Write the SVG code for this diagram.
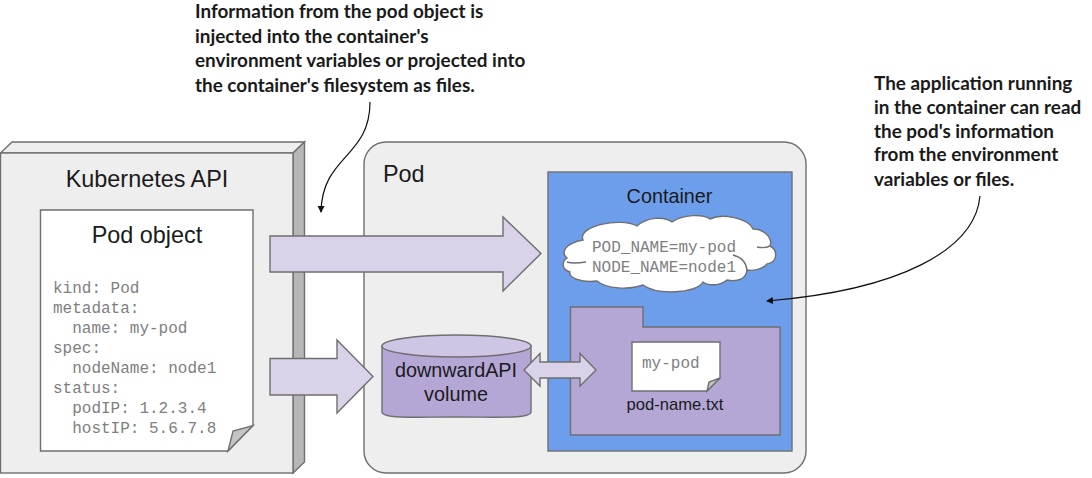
<svg xmlns="http://www.w3.org/2000/svg" width="1092" height="478" viewBox="0 0 1092 478">
<style>
.s{stroke:#6f6f6f;stroke-width:1.4;stroke-linejoin:miter}
.a{font-family:"Liberation Sans",Arial,sans-serif;fill:#1a1a1a}
.m{font-family:"Liberation Mono","Courier New",monospace;font-size:16px;fill:#808080}
.n{font-family:Lato,"Open Sans",sans-serif;font-size:18.900px;font-weight:bold;fill:#1a1a1a}
.c{fill:none;stroke:#111;stroke-width:1.2}
.arrow{fill:#d9d2e9}
</style>
<defs>
<marker id="h" markerWidth="8" markerHeight="8" refX="6" refY="3.5" orient="auto" markerUnits="userSpaceOnUse"><path d="M0 0L7 3.5L0 7Z" fill="#111"/></marker>
</defs>
<rect width="1092" height="478" fill="#fff"/>
<g id="api">
<path class="s" d="M0.5 153L12 142H304.500L293 153Z" fill="#eeeeee"/>
<path class="s" d="M293 153L304.500 142V462L293 473Z" fill="#b7b7b7"/>
<rect class="s" x="0.500" y="153" width="292.500" height="320" fill="#eeeeee"/>
<text class="a" x="147" y="187" font-size="23.400" text-anchor="middle">Kubernetes API</text>
</g>
<g id="pod">
<rect class="s" x="364" y="142" width="442" height="331" rx="22" fill="#eeeeee"/>
<text class="a" x="383" y="182" font-size="23.400">Pod</text>
</g>
<g id="pod-object">
<path class="s" d="M40.500 210H253V425.500L228 451H40.500Z" fill="#fff"/>
<path class="s" d="M228 451L233 431L253 425.500Z" fill="#c4c4c4"/>
<text class="a" x="147" y="243" font-size="23.400" text-anchor="middle">Pod object</text>
<g class="m">
<text x="53" y="292.500">kind: Pod</text>
<text x="53" y="312.500">metadata:</text>
<text x="53" y="332.500" xml:space="preserve">  name: my-pod</text>
<text x="53" y="352.500">spec:</text>
<text x="53" y="372.500" xml:space="preserve">  nodeName: node1</text>
<text x="53" y="392.500">status:</text>
<text x="53" y="412.500" xml:space="preserve">  podIP: 1.2.3.4</text>
<text x="53" y="432.500" xml:space="preserve">  hostIP: 5.6.7.8</text>
</g>
</g>
<g id="container">
<rect class="s" x="548" y="172" width="244" height="279" fill="#6d9eeb"/>
<text class="a" x="669.500" y="203" font-size="19.800" text-anchor="middle">Container</text>
</g>
<g id="env-cloud">
<path class="s" fill="#fff" d="M583 240C577 226 620 217 637 226C647 217 664 216 672 222C683 214 703 214 710 219C722 213 748 218 753 229C764 229 773 238 770 246C778 250 778 262 767 264C762 270 752 271 747 270C746 279 738 282 727 280C720 286 708 286 703 282C696 294 656 295 643 285C630 290 606 289 597 281C582 283 568 278 570 272C562 270 561 262 567 258C560 252 566 243 583 240Z"/>
<path fill="none" class="s" d="M567 262C573 264 580 263 586 262M770 246C766 248 762 248 757 247M747 270C746 262 741 257 733 255"/>
<g class="m">
<text x="592" y="251.500">POD_NAME=my-pod</text>
<text x="592" y="271.500">NODE_NAME=node1</text>
</g>
</g>
<g id="folder">
<path class="s" d="M570.500 307H643V327H780V435H570.500Z" fill="#b4a7d6"/>
</g>
<g id="file">
<path class="s" d="M632 342H720V378L707 391H632Z" fill="#fff"/>
<path class="s" d="M707 391L709 382L720 378Z" fill="#c4c4c4"/>
<text class="m" x="642" y="367.500">my-pod</text>
<text class="a" x="675" y="410" font-size="16.600" text-anchor="middle">pod-name.txt</text>
</g>
<g id="volume">
<path class="s" d="M382 346V412C382 419 415 417 456 417C497 417 531 419 531 412V346Z" fill="#b4a7d6"/>
<ellipse class="s" cx="456.500" cy="346" rx="74.500" ry="11" fill="#cfc5e5"/>
<text class="a" font-size="19.800" text-anchor="middle"><tspan x="456" y="377">downwardAPI</tspan><tspan x="456" y="401">volume</tspan></text>
</g>
<g id="connectors">
<path class="s arrow" d="M270 236H503V217L541 253.500L503 291V272H270Z"/>
<path class="s arrow" d="M270 358.500H337V340L373 376.500L337 413V395H270Z"/>
<path class="s arrow" d="M524 370L540 353.500V362H580V353.500L596 370L580 386V378H540V386Z"/>
<path class="c" marker-end="url(#h)" d="M370 102C370 158 322 155 321 212"/>
<path class="c" marker-end="url(#h)" d="M980 196C975 250 900 290 767 301"/>
</g>
<g id="notes" class="n">
<text x="195" y="18">Information from the pod object is</text>
<text x="195" y="43">injected into the container's</text>
<text x="195" y="67">environment variables or projected into</text>
<text x="195" y="92">the container's filesystem as files.</text>
<text x="874" y="90">The application running</text>
<text x="874" y="114">in the container can read</text>
<text x="874" y="138">the pod's information</text>
<text x="874" y="161">from the environment</text>
<text x="874" y="186">variables or files.</text>
</g>
</svg>
